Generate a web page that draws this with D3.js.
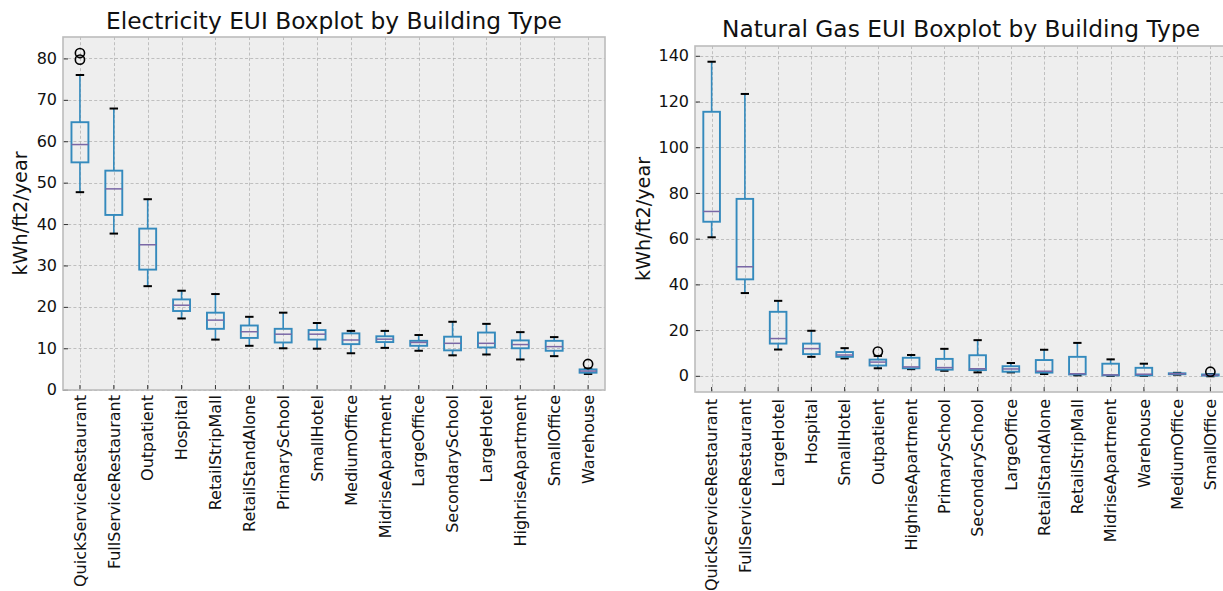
<!DOCTYPE html>
<html>
<head>
<meta charset="utf-8">
<script src="https://cdn.jsdelivr.net/npm/d3@7"></script>
<style>
  html, body { margin: 0; padding: 0; background: #ffffff; }
  svg { display: block; font-family: "DejaVu Sans", sans-serif; }
</style>
</head>
<body>
<svg id="chart" width="1223" height="591"></svg>
<script>
// ---------------- DATA ----------------
const elecCategories = ["QuickServiceRestaurant", "FullServiceRestaurant", "Outpatient", "Hospital",
  "RetailStripMall", "RetailStandAlone", "PrimarySchool", "SmallHotel", "MediumOffice",
  "MidriseApartment", "LargeOffice", "SecondarySchool", "LargeHotel", "HighriseApartment",
  "SmallOffice", "Warehouse"];
const elecLow    = [47.7, 37.7, 25.0, 17.2, 12.1, 10.6, 10.0, 9.9, 8.8, 10.1, 9.4, 8.3, 8.5, 7.3, 8.1, 3.8];
const elecQ1     = [54.9, 42.2, 29.0, 19.0, 14.7, 12.5, 11.4, 12.1, 11.0, 11.5, 10.6, 9.5, 10.2, 10.0, 9.4, 4.1];
const elecMedian = [59.2, 48.5, 35.0, 20.4, 16.8, 14.0, 13.4, 13.4, 12.0, 12.2, 11.4, 11.2, 11.2, 10.9, 10.4, 4.5];
const elecQ3     = [64.6, 52.9, 38.9, 21.8, 18.6, 15.5, 14.7, 14.4, 13.6, 12.9, 11.8, 12.8, 13.8, 11.9, 11.8, 4.9];
const elecHigh   = [76.0, 67.9, 46.0, 23.9, 23.1, 17.6, 18.6, 16.1, 14.2, 14.2, 13.2, 16.4, 15.9, 13.9, 12.7, 5.1];
const elecOutliers = [[79.7, 81.3], [], [], [], [], [], [], [], [], [], [], [], [], [], [], [6.2]];
const elecTicks = [0, 10, 20, 30, 40, 50, 60, 70, 80];

const gasCategories = ["QuickServiceRestaurant", "FullServiceRestaurant", "LargeHotel", "Hospital",
  "SmallHotel", "Outpatient", "HighriseApartment", "PrimarySchool", "SecondarySchool",
  "LargeOffice", "RetailStandAlone", "RetailStripMall", "MidriseApartment", "Warehouse",
  "MediumOffice", "SmallOffice"];
const gasLow    = [60.6, 36.2, 11.5, 8.3, 7.6, 3.3, 2.9, 2.2, 1.5, 1.5, 0.8, 0.2, 0.0, 0.0, 0.5, -0.2];
const gasQ1     = [67.4, 42.2, 14.1, 9.5, 8.3, 4.5, 3.3, 2.7, 2.5, 1.8, 1.4, 0.6, 0.2, 0.2, 0.7, 0.1];
const gasMedian = [71.9, 47.7, 16.3, 11.9, 9.1, 6.0, 3.9, 3.6, 3.1, 3.0, 2.0, 0.9, 0.4, 0.7, 0.9, 0.3];
const gasQ3     = [115.5, 77.4, 28.0, 14.1, 10.4, 7.1, 7.9, 7.4, 9.0, 4.2, 6.9, 8.3, 5.3, 3.5, 1.1, 0.6];
const gasHigh   = [137.4, 123.3, 32.8, 19.7, 12.1, 8.7, 9.1, 11.8, 15.6, 5.6, 11.4, 14.4, 7.2, 5.3, 1.3, 0.8];
const gasOutliers = [[], [], [], [], [], [10.6], [], [], [], [], [], [], [], [], [], [1.8]];
const gasTicks = [0, 20, 40, 60, 80, 100, 120, 140];

// ---------------- STYLE ----------------
const BOX_COLOR = "#348ABD";
const MEDIAN_COLOR = "#7A68A6";
const CAP_COLOR = "#000000";
const BG = "#eeeeee";
const GRID = "#b2b2b2";
const EDGE = "#bcbcbc";
const TEXT = "#111111";

const svg = d3.select("#chart");

function drawPanel(cfg) {
  const { left, right, top, bottom } = cfg.frame;

  // y domain like matplotlib autoscale (5% margins)
  const all = [].concat(cfg.low, cfg.high, ...cfg.outliers);
  const mn = d3.min(all), mx = d3.max(all);
  const pad = (mx - mn) * 0.05;
  const y = d3.scaleLinear().domain([mn - pad, mx + pad]).range([bottom, top]);
  const x = d3.scaleBand().domain(cfg.categories).range([left, right]).paddingInner(0).paddingOuter(0);
  const bw = x.bandwidth();
  const cx = c => x(c) + bw / 2;
  const boxW = bw * 0.5;
  const capW = boxW * 0.5;

  const g = svg.append("g");

  // background
  g.append("rect").attr("x", left).attr("y", top)
    .attr("width", right - left).attr("height", bottom - top).attr("fill", BG);

  // grid
  const grid = g.append("g").attr("stroke", GRID).attr("stroke-width", 0.8)
    .attr("stroke-dasharray", "3,2.2").attr("fill", "none");
  grid.selectAll("line.h").data(cfg.ticks).join("line").attr("class", "h")
    .attr("x1", left).attr("x2", right)
    .attr("y1", d => Math.round(y(d)) + 0.5).attr("y2", d => Math.round(y(d)) + 0.5);
  grid.selectAll("line.v").data(cfg.categories).join("line").attr("class", "v")
    .attr("y1", top).attr("y2", bottom)
    .attr("x1", d => Math.round(cx(d)) + 0.5).attr("x2", d => Math.round(cx(d)) + 0.5);

  // axes
  const yAxis = d3.axisLeft(y).tickValues(cfg.ticks).tickFormat(d3.format("d"))
    .tickSizeInner(-5).tickSizeOuter(0).tickPadding(6);
  const yg = g.append("g").attr("transform", `translate(${left},0)`).call(yAxis);
  yg.select(".domain").remove();
  yg.selectAll(".tick line").attr("stroke", "#333").attr("stroke-width", 1);
  yg.selectAll(".tick text").attr("fill", TEXT).style("font-size", "16px")
    .style("font-family", "'DejaVu Sans', sans-serif");

  const xAxis = d3.axisBottom(x).tickSizeInner(-5).tickSizeOuter(0).tickPadding(0);
  const xg = g.append("g").attr("transform", `translate(0,${bottom})`).call(xAxis);
  xg.select(".domain").remove();
  xg.selectAll(".tick line").attr("stroke", "#333").attr("stroke-width", 1);
  xg.selectAll(".tick text")
    .attr("fill", TEXT).style("font-size", "16px")
    .style("font-family", "'DejaVu Sans', sans-serif")
    .attr("text-anchor", "end")
    .attr("transform", "rotate(-90)")
    .attr("x", -cfg.labelGap).attr("y", 0).attr("dy", "0.36em");

  // boxes
  const data = cfg.categories.map((c, i) => ({
    c, lo: cfg.low[i], q1: cfg.q1[i], med: cfg.median[i], q3: cfg.q3[i], hi: cfg.high[i], out: cfg.outliers[i]
  }));
  const bx = g.append("g");
  const items = bx.selectAll("g.item").data(data).join("g").attr("class", "item");

  items.append("line").attr("stroke", BOX_COLOR).attr("stroke-width", 1.6)
    .attr("x1", d => cx(d.c)).attr("x2", d => cx(d.c))
    .attr("y1", d => y(d.q3)).attr("y2", d => y(d.hi));
  items.append("line").attr("stroke", BOX_COLOR).attr("stroke-width", 1.6)
    .attr("x1", d => cx(d.c)).attr("x2", d => cx(d.c))
    .attr("y1", d => y(d.q1)).attr("y2", d => y(d.lo));
  items.append("line").attr("stroke", CAP_COLOR).attr("stroke-width", 2)
    .attr("x1", d => cx(d.c) - capW / 2).attr("x2", d => cx(d.c) + capW / 2)
    .attr("y1", d => y(d.hi)).attr("y2", d => y(d.hi));
  items.append("line").attr("stroke", CAP_COLOR).attr("stroke-width", 2)
    .attr("x1", d => cx(d.c) - capW / 2).attr("x2", d => cx(d.c) + capW / 2)
    .attr("y1", d => y(d.lo)).attr("y2", d => y(d.lo));
  items.append("rect").attr("fill", "none").attr("stroke", BOX_COLOR).attr("stroke-width", 1.9)
    .attr("x", d => cx(d.c) - boxW / 2).attr("width", boxW)
    .attr("y", d => y(d.q3)).attr("height", d => Math.max(0.5, y(d.q1) - y(d.q3)));
  items.append("line").attr("stroke", MEDIAN_COLOR).attr("stroke-width", 1.5)
    .attr("x1", d => cx(d.c) - boxW / 2).attr("x2", d => cx(d.c) + boxW / 2)
    .attr("y1", d => y(d.med)).attr("y2", d => y(d.med));
  items.selectAll("circle").data(d => d.out.map(v => ({ c: d.c, v }))).join("circle")
    .attr("cx", d => cx(d.c)).attr("cy", d => y(d.v)).attr("r", 4.6)
    .attr("fill", "none").attr("stroke", "#000").attr("stroke-width", 1.6);

  // frame
  g.append("rect").attr("x", left).attr("y", top)
    .attr("width", right - left).attr("height", bottom - top)
    .attr("fill", "none").attr("stroke", EDGE).attr("stroke-width", 1.6);

  // title
  g.append("text").attr("x", (left + right) / 2).attr("y", cfg.titleY)
    .attr("text-anchor", "middle").attr("fill", TEXT)
    .style("font-size", "23.3px").text(cfg.title);

  // y label
  g.append("text")
    .attr("transform", `translate(${cfg.ylabelX},${(top + bottom) / 2}) rotate(-90)`)
    .attr("text-anchor", "middle").attr("fill", TEXT)
    .style("font-size", "19.2px").text(cfg.ylabel);
}

drawPanel({
  frame: { left: 63, right: 605, top: 37, bottom: 390 },
  categories: elecCategories, low: elecLow, q1: elecQ1, median: elecMedian, q3: elecQ3, high: elecHigh,
  outliers: elecOutliers, ticks: elecTicks,
  title: "Electricity EUI Boxplot by Building Type", titleY: 29,
  ylabel: "kWh/ft2/year", ylabelX: 27, labelGap: 5
});

drawPanel({
  frame: { left: 695, right: 1227, top: 46, bottom: 392 },
  categories: gasCategories, low: gasLow, q1: gasQ1, median: gasMedian, q3: gasQ3, high: gasHigh,
  outliers: gasOutliers, ticks: gasTicks,
  title: "Natural Gas EUI Boxplot by Building Type", titleY: 37,
  ylabel: "kWh/ft2/year", ylabelX: 650, labelGap: 7
});
</script>
</body>
</html>
